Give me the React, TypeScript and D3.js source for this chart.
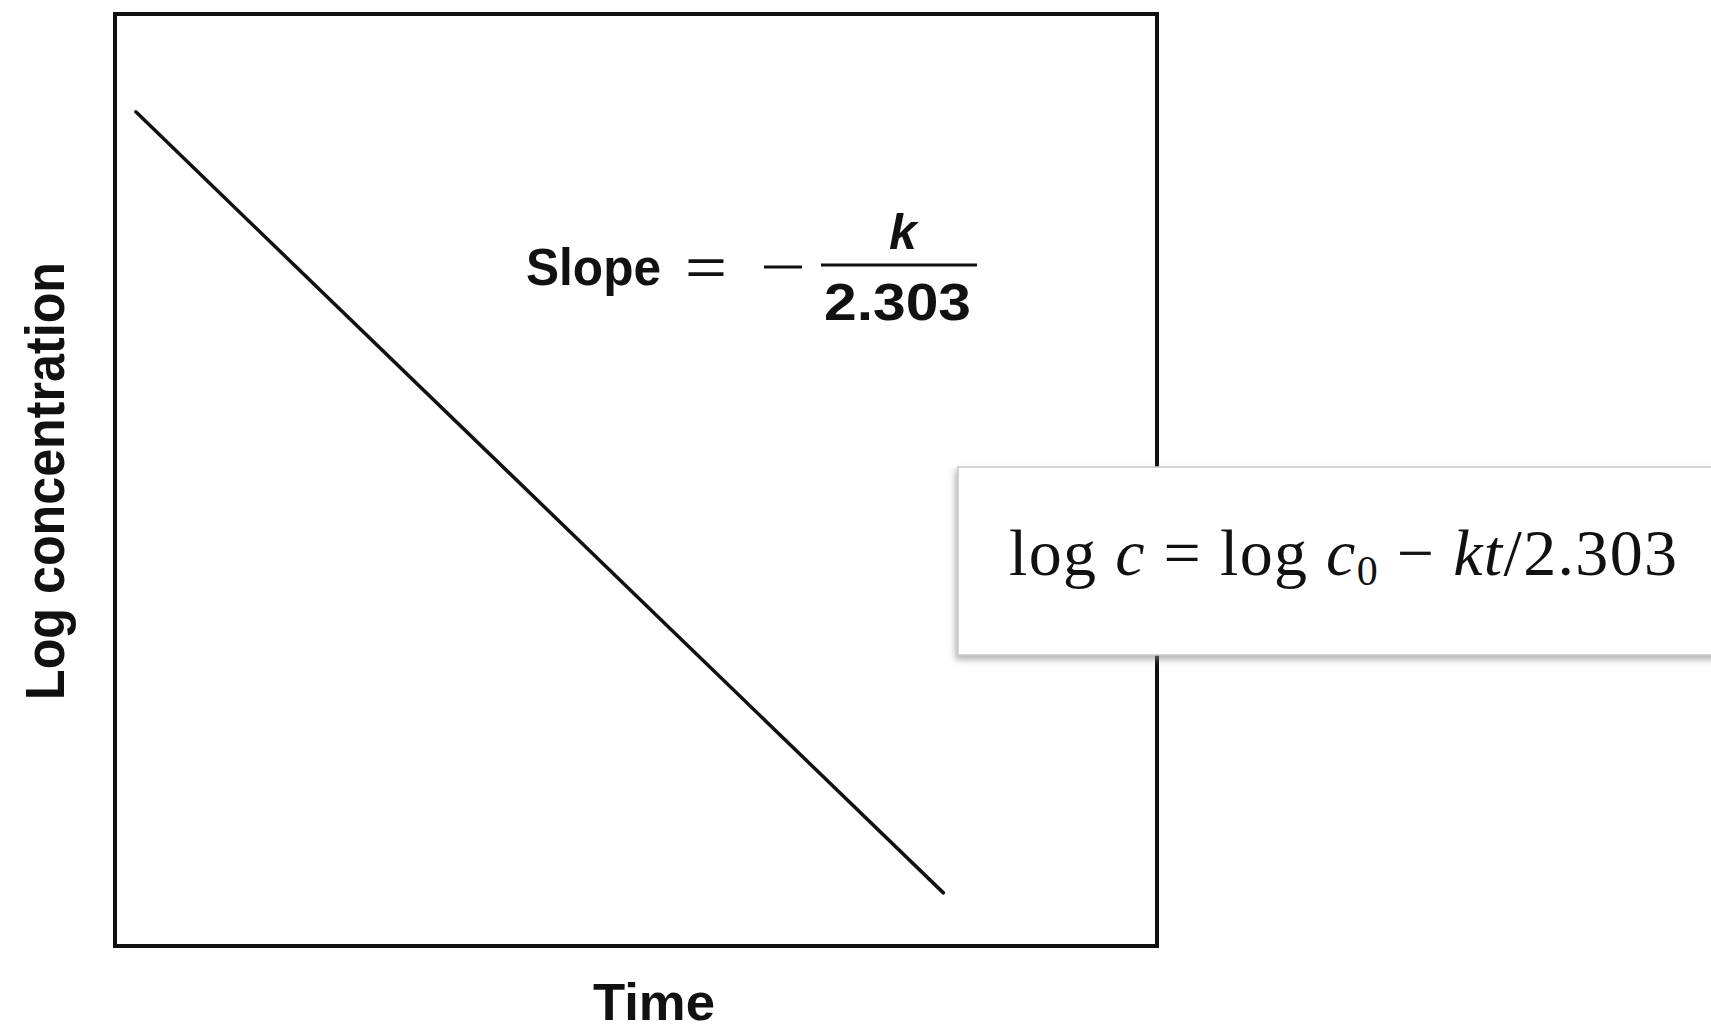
import React from "react";
import * as d3 from "d3";

// First-order kinetics: log concentration falls linearly with time.
const timeValues: number[] = [0.2, 7.95];
const logConcValues: number[] = [8.95, 0.57];

const xAxisTitle = "Time";
const yAxisTitle = "Log concentration";
const slopeWord = "Slope";
const slopeNumerator = "k";
const slopeDenominator = "2.303";

const W = 1711;
const H = 1034;
const plot = { left: 115, top: 14, right: 1157, bottom: 946 };

export default function App() {
  const x = d3.scaleLinear().domain([0, 10]).range([plot.left, plot.right]);
  const y = d3.scaleLinear().domain([0, 10]).range([plot.bottom, plot.top]);

  const pts: [number, number][] = timeValues.map((t, i) => [t, logConcValues[i]]);
  const linePath = d3
    .line<[number, number]>()
    .x((d) => x(d[0]))
    .y((d) => y(d[1]))(pts) as string;

  const sans = "'Liberation Sans', Arial, sans-serif";
  const serif = "'Liberation Serif', 'Times New Roman', serif";

  return (
    <svg
      width={W}
      height={H}
      viewBox={`0 0 ${W} ${H}`}
      style={{ position: "absolute", left: 0, top: 0, background: "#fff" }}
    >
      <defs>
        <filter id="boxShadow" x="-10%" y="-20%" width="120%" height="150%">
          <feDropShadow dx="-2" dy="4" stdDeviation="3" floodColor="#808080" floodOpacity="0.6" />
        </filter>
      </defs>
      <rect width={W} height={H} fill="#fff" />

      {/* plot frame */}
      <rect
        x={plot.left}
        y={plot.top}
        width={plot.right - plot.left}
        height={plot.bottom - plot.top}
        fill="none"
        stroke="#111"
        strokeWidth={4}
      />

      {/* regression line */}
      <path d={linePath} fill="none" stroke="#111" strokeWidth={3.5} strokeLinecap="round" />

      {/* slope annotation */}
      <g fontFamily={sans} fontWeight="bold" fill="#111">
        <text x={526} y={285} fontSize={52} textLength={135} lengthAdjust="spacingAndGlyphs">
          {slopeWord}
        </text>
        <text x={685} y={285} fontSize={52} fontWeight="normal" textLength={42} lengthAdjust="spacingAndGlyphs">
          =
        </text>
        <line x1={764} x2={802} y1={267} y2={267} stroke="#111" strokeWidth={3} />
        <line x1={821} x2={977} y1={265} y2={265} stroke="#111" strokeWidth={3} />
        <text x={903} y={249} fontSize={50} fontStyle="italic" textAnchor="middle">
          {slopeNumerator}
        </text>
        <text x={824} y={320} fontSize={52} textLength={147} lengthAdjust="spacingAndGlyphs">
          {slopeDenominator}
        </text>
      </g>

      {/* axis titles */}
      <text
        transform={`translate(${64},${481}) rotate(-90)`}
        textAnchor="middle"
        fontFamily={sans}
        fontWeight="bold"
        fontSize={56}
        fill="#111"
        textLength={438}
        lengthAdjust="spacingAndGlyphs"
      >
        {yAxisTitle}
      </text>
      <text
        x={654}
        y={1020}
        textAnchor="middle"
        fontFamily={sans}
        fontWeight="bold"
        fontSize={52}
        fill="#111"
        textLength={122}
        lengthAdjust="spacingAndGlyphs"
      >
        {xAxisTitle}
      </text>

      {/* equation callout */}
      <rect
        x={958}
        y={467}
        width={W - 958 + 10}
        height={188}
        fill="#fff"
        stroke="#c8c8c8"
        strokeWidth={1.5}
        filter="url(#boxShadow)"
      />
      <text x={1009} y={575} fontFamily={serif} fontSize={66} fill="#111" textLength={668} lengthAdjust="spacing">
        <tspan>log </tspan>
        <tspan fontStyle="italic">c</tspan>
        <tspan> = log </tspan>
        <tspan fontStyle="italic">c</tspan>
        <tspan fontSize={42} dy={10}>0</tspan>
        <tspan dy={-10}> − </tspan>
        <tspan fontStyle="italic">kt</tspan>
        <tspan>/2.303</tspan>
      </text>
    </svg>
  );
}
